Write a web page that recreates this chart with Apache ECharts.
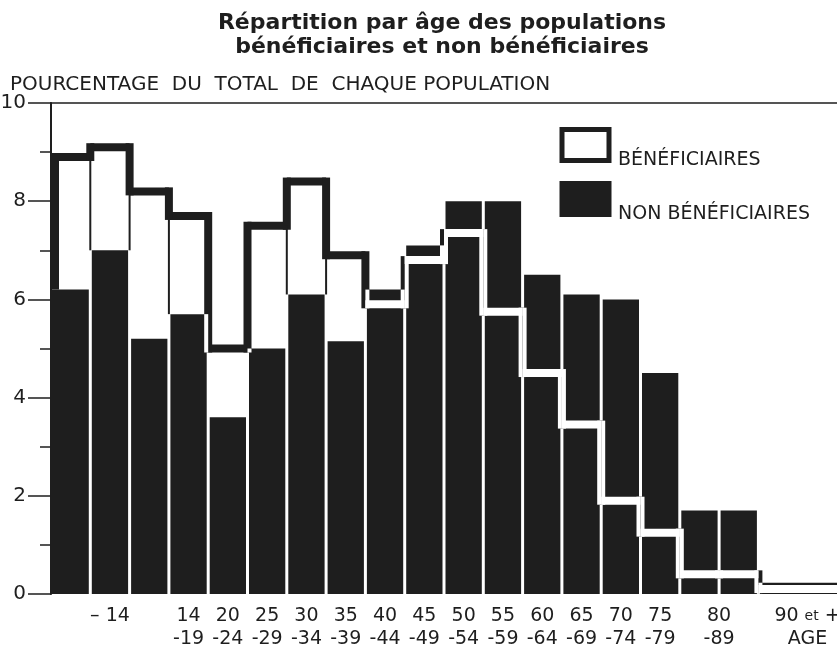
<!DOCTYPE html>
<html><head><meta charset="utf-8">
<script src="https://cdn.jsdelivr.net/npm/echarts@6/dist/echarts.min.js"></script>
<style>html,body{margin:0;padding:0;background:#fff}#c{width:837px;height:645px}</style>
</head><body><div id="c"></div>
<script>
// ---- data ----
const ageStart = [0,5,10,15,20,25,30,35,40,45,50,55,60,65,70,75,80,85,90];
const ageEnd   = [5,10,15,20,25,30,35,40,45,50,55,60,65,70,75,80,85,90,100];
const nonBenef = [6.2,7.0,5.2,5.7,3.6,5.0,6.1,5.15,6.2,7.1,8.0,8.0,6.5,6.1,6.0,4.5,1.7,1.7,0.23];
const benef    = [8.9,9.1,8.2,7.7,5.0,7.5,8.4,6.9,5.9,6.8,7.35,5.75,4.5,3.45,1.9,1.25,0.4,0.4,0.1];
const tickAges   = [7.5,17.5,22.5,27.5,32.5,37.5,42.5,47.5,52.5,57.5,62.5,67.5,72.5,77.5,85,96.25];
const tickLabels = ['– 14','14\n-19','20\n-24','25\n-29','30\n-34','35\n-39','40\n-44','45\n-49','50\n-54','55\n-59','60\n-64','65\n-69','70\n-74','75\n-79','80\n-89','{n|90} {s|et} {n|+}\n{n|AGE}'];
const yTicks = [0,2,4,6,8,10];
const seriesNames = ['BÉNÉFICIAIRES','NON BÉNÉFICIAIRES'];
const titleText = 'Répartition par âge des populations\nbénéficiaires et non bénéficiaires';
const yName = 'POURCENTAGE  DU  TOTAL  DE  CHAQUE POPULATION';

// ---- styles ----
const DARK = '#1e1e1e';
const T = 8;
const FONT = 'DejaVu Sans';

function extRect(api, i) {
  const p0 = api.coord([ageStart[i], 0]);
  const p1 = api.coord([ageEnd[i], nonBenef[i]]);
  return {x: p0[0], y: p1[1], width: p1[0]-p0[0], height: p0[1]-p1[1]};
}
function lineRects(api, i) {
  const out = [];
  const a = api.coord([ageStart[i], benef[i]]);
  const b = api.coord([ageEnd[i], benef[i]]);
  out.push({x: a[0], y: a[1]-T/2, width: b[0]-a[0], height: T});
  if (i > 0) {
    const q = api.coord([ageStart[i], benef[i-1]]);
    const top = Math.min(a[1], q[1]) - T/2, bot = Math.max(a[1], q[1]) + T/2;
    out.push({x: a[0] - T/2, y: top, width: T, height: bot-top});
  } else {
    const q = api.coord([ageStart[i], nonBenef[i]]);
    const top = a[1] - T/2;
    out.push({x: a[0], y: top, width: T, height: q[1]-top});
  }
  return out;
}
function clip(r, c) {
  const x0 = Math.max(r.x, c.x), y0 = Math.max(r.y, c.y);
  const x1 = Math.min(r.x+r.width, c.x+c.width), y1 = Math.min(r.y+r.height, c.y+c.height);
  if (x1 <= x0 || y1 <= y0) return null;
  return {x:x0, y:y0, width:x1-x0, height:y1-y0};
}

const chart = echarts.init(document.getElementById('c'), null, {renderer:'canvas'});
const dataRows = ageStart.map((s,i)=>[s, ageEnd[i], nonBenef[i], benef[i]]);

const legendBase = {
  orient: 'vertical', padding: 0, itemWidth: 47, itemHeight: 31, selectedMode: false,
  formatter: name => '{t|' + name + '}',
  textStyle: {fontFamily: FONT, fontSize: 19, color: DARK,
    rich: {t: {fontFamily: FONT, fontSize: 19, color: DARK, padding: [30,0,0,4]}}}
};

const option = {
  backgroundColor: '#fff',
  animation: false,
  title: [
    {text: titleText, left: 437, top: 6, textAlign: 'center',
     textStyle: {fontFamily: FONT, fontWeight: 'bold', fontSize: 22, lineHeight: 24, color: DARK}},
    {text: yName, left: 5, top: 70,
     textStyle: {fontFamily: FONT, fontWeight: 'normal', fontSize: 20, color: DARK}}
  ],
  legend: [
    Object.assign({}, legendBase, {left: 559.5, top: 127,
      data: [{name: seriesNames[0], icon: 'rect', itemStyle: {color: '#fff', borderColor: DARK, borderWidth: 5}}]}),
    Object.assign({}, legendBase, {left: 559.5, top: 181,
      data: [{name: seriesNames[1], icon: 'rect', itemStyle: {color: DARK, borderColor: DARK, borderWidth: 5}}]})
  ],
  grid: {left: 51, right: 0, top: 103, bottom: 51, outerBoundsMode: 'none', containLabel: false},
  xAxis: [
    {type: 'value', min: 0, max: 100, interval: 1.25, position: 'bottom',
     axisLine: {show: false}, axisTick: {show: false}, splitLine: {show: false},
     axisLabel: {
       show: true, margin: 11, fontFamily: FONT, fontSize: 19, lineHeight: 23, color: DARK,
       verticalAlign: 'top', align: 'center', showMinLabel: true, showMaxLabel: true,
       formatter: function (v) {
         const k = tickAges.findIndex(a => Math.abs(a - v) < 0.01);
         return k >= 0 ? tickLabels[k] : '';
       },
       rich: {n: {fontFamily: FONT, fontSize: 19, lineHeight: 23, color: DARK},
              s: {fontFamily: FONT, fontSize: 14, lineHeight: 23, color: DARK}}
     }},
    {type: 'value', min: 0, max: 100, position: 'top',
     axisLine: {show: true, lineStyle: {color: DARK, width: 1.5}},
     axisTick: {show: false}, axisLabel: {show: false}, splitLine: {show: false}}
  ],
  yAxis: {
    type: 'value', min: 0, max: 10, interval: 2,
    axisLine: {show: true, lineStyle: {color: DARK, width: 2}},
    axisTick: {show: true, length: 23, lineStyle: {color: DARK, width: 1.5}},
    minorTick: {show: true, splitNumber: 2, length: 11, lineStyle: {color: DARK, width: 1.5}},
    splitLine: {show: false},
    axisLabel: {margin: 25, fontFamily: FONT, fontSize: 20, color: DARK,
      formatter: v => yTicks.indexOf(v) >= 0 ? String(v) : ''}
  },
  series: [
    {
      name: seriesNames[0], type: 'custom', z: 2, data: dataRows,
      encode: {x: [0,1], y: 3}, itemStyle: {color: '#fff', borderColor: DARK},
      renderItem: function (params, api) {
        const i = params.dataIndex;
        const children = lineRects(api, i).map(r => ({type: 'rect', shape: r, style: {fill: DARK}}));
        if (i > 0) {
          const lo = Math.min(benef[i-1], benef[i]);
          const hi = Math.max(nonBenef[i-1], nonBenef[i]);
          if (lo > hi) {
            const p = api.coord([ageStart[i], lo]);
            const q = api.coord([ageStart[i], hi]);
            children.push({type: 'line', shape: {x1: p[0], y1: p[1], x2: q[0], y2: q[1]},
                           style: {stroke: DARK, lineWidth: 2}});
          }
        }
        return {type: 'group', children: children};
      }
    },
    {
      name: seriesNames[1], type: 'custom', z: 3, data: dataRows,
      encode: {x: [0,1], y: 2}, itemStyle: {color: DARK},
      renderItem: function (params, api) {
        const i = params.dataIndex;
        const p0 = api.coord([api.value(0), 0]);
        const p1 = api.coord([api.value(1), api.value(2)]);
        const inL = i === 0 ? 0 : 1.5;
        const inR = i === ageStart.length - 1 ? 0 : 1.5;
        return {type: 'rect', shape: {x: p0[0]+inL, y: p1[1], width: p1[0]-p0[0]-inL-inR, height: p0[1]-p1[1]},
                style: {fill: DARK}};
      }
    },
    {
      name: 'overlay', type: 'custom', z: 4, data: dataRows, silent: true,
      encode: {x: [0,1], y: 3},
      renderItem: function (params, api) {
        const i = params.dataIndex;
        const clips = [extRect(api, i)];
        if (i > 0) clips.push(extRect(api, i-1));
        const children = [];
        lineRects(api, i).forEach(r => clips.forEach(c => {
          const k = clip(r, c);
          if (k) children.push({type: 'rect', shape: k, style: {fill: '#fff'}});
        }));
        return {type: 'group', children: children};
      }
    }
  ]
};
chart.setOption(option);
</script>
</body></html>
